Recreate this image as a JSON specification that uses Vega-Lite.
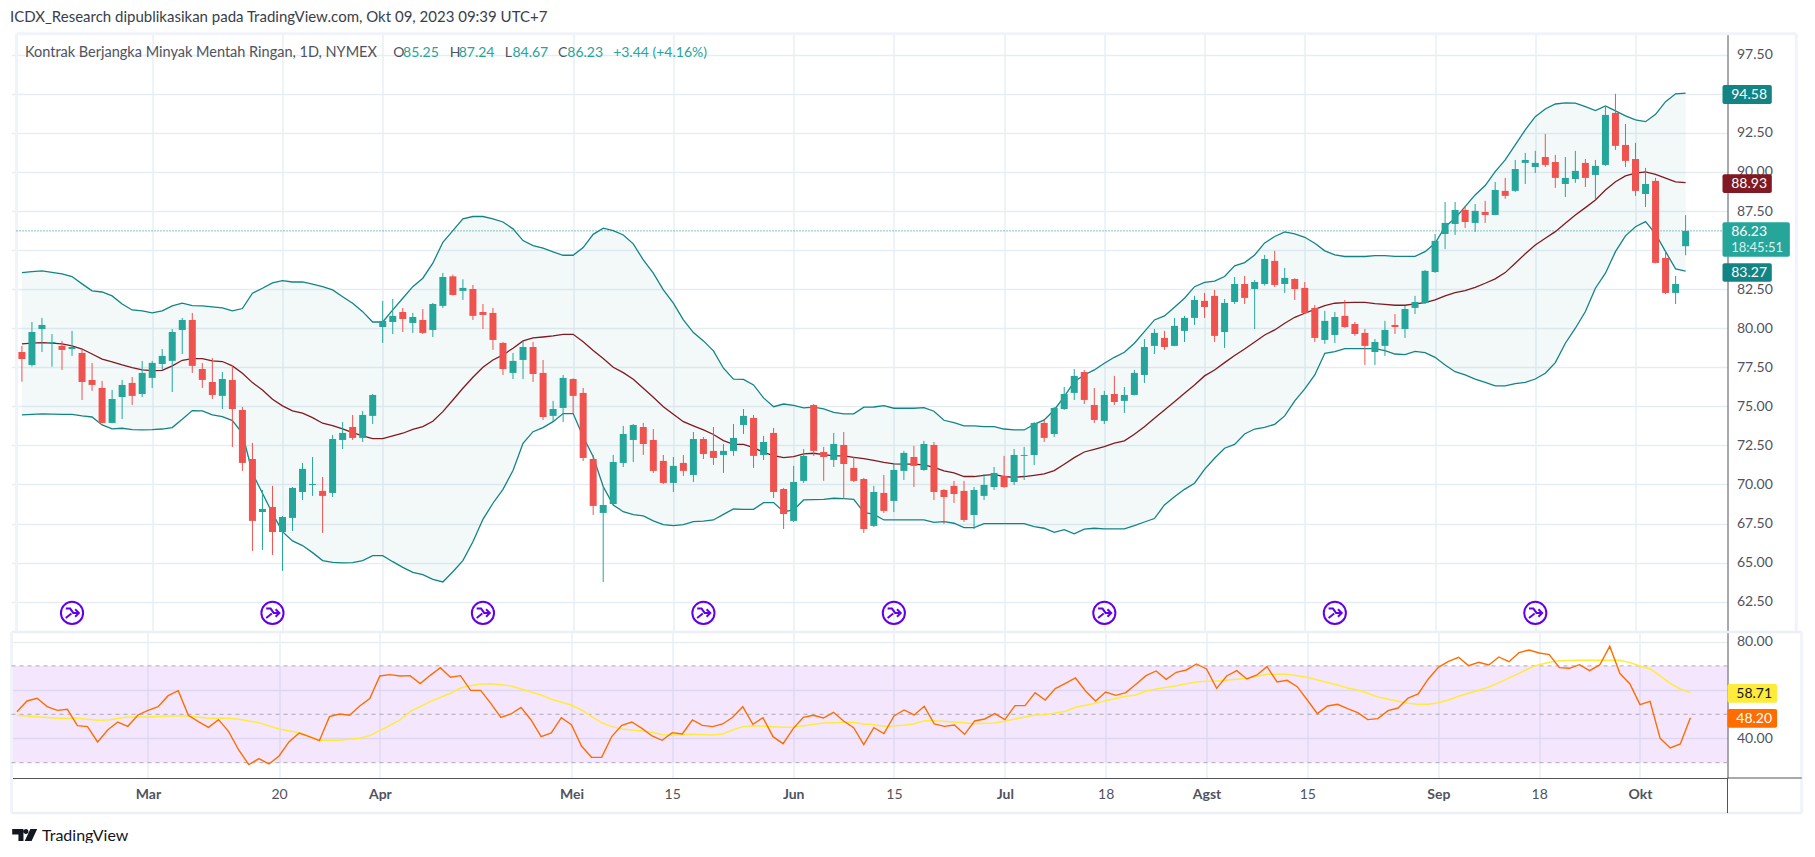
{
"$schema":"https://vega.github.io/schema/vega-lite/v6.json",
"background":"#ffffff",
"padding":{"left":9.5,"top":10,"right":0,"bottom":0},
"autosize":{"type":"pad","resize":false},
"title":{"text":"ICDX_Research dipublikasikan pada TradingView.com, Okt 09, 2023 09:39 UTC+7","anchor":"start","fontSize":15,"fontWeight":"normal","color":"#3a3e4a","offset":7},
"config":{"font":"Lato","view":{"stroke":null},"axis":{"gridColor":"#e5edf3","gridWidth":1.3,"labelColor":"#50535e","labelFontSize":14,"domainColor":"#50535e","ticks":false,"labelPadding":9}},
"datasets":{
"ohlc":[
{"bar":0,"o":78.48,"h":78.87,"l":76.58,"c":78.03},{"bar":1,"o":77.65,"h":80.40,"l":77.54,"c":79.76},{"bar":2,"o":79.95,"h":80.66,"l":78.48,"c":80.21},{"bar":3,"o":79.04,"h":79.63,"l":77.54,"c":79.12},
{"bar":4,"o":78.87,"h":79.19,"l":77.33,"c":78.61},{"bar":5,"o":78.67,"h":79.83,"l":78.23,"c":78.80},{"bar":6,"o":78.42,"h":78.61,"l":75.41,"c":76.56},{"bar":7,"o":76.69,"h":77.78,"l":75.99,"c":76.37},
{"bar":8,"o":76.18,"h":76.63,"l":73.92,"c":73.94},{"bar":9,"o":73.94,"h":76.05,"l":73.92,"c":75.47},{"bar":10,"o":75.60,"h":76.69,"l":74.19,"c":76.37},{"bar":11,"o":76.50,"h":76.88,"l":75.09,"c":75.67},
{"bar":12,"o":75.79,"h":77.91,"l":75.60,"c":77.14},{"bar":13,"o":76.82,"h":77.91,"l":76.18,"c":77.78},{"bar":14,"o":77.71,"h":78.67,"l":77.33,"c":78.23},{"bar":15,"o":77.91,"h":79.95,"l":75.92,"c":79.76},
{"bar":16,"o":79.89,"h":80.66,"l":78.35,"c":80.53},{"bar":17,"o":80.53,"h":80.98,"l":77.14,"c":77.59},{"bar":18,"o":77.39,"h":77.78,"l":76.18,"c":76.69},{"bar":19,"o":76.56,"h":78.10,"l":75.47,"c":75.73},
{"bar":20,"o":75.67,"h":77.20,"l":74.83,"c":76.75},{"bar":21,"o":76.69,"h":77.65,"l":72.40,"c":74.83},{"bar":22,"o":74.77,"h":74.96,"l":70.87,"c":71.38},{"bar":23,"o":71.63,"h":72.66,"l":65.75,"c":67.67},
{"bar":24,"o":68.24,"h":69.65,"l":65.81,"c":68.43},{"bar":25,"o":68.56,"h":69.91,"l":65.49,"c":66.96},{"bar":26,"o":66.96,"h":67.99,"l":64.47,"c":67.92},{"bar":27,"o":67.86,"h":69.84,"l":67.03,"c":69.78},
{"bar":28,"o":69.52,"h":71.38,"l":69.01,"c":71.00},{"bar":29,"o":69.97,"h":71.76,"l":69.27,"c":70.03},{"bar":30,"o":69.59,"h":70.48,"l":66.90,"c":69.27},{"bar":31,"o":69.46,"h":73.17,"l":69.20,"c":72.91},
{"bar":32,"o":72.85,"h":74.00,"l":72.27,"c":73.30},{"bar":33,"o":73.68,"h":74.45,"l":72.85,"c":72.98},{"bar":34,"o":72.98,"h":74.71,"l":72.72,"c":74.45},{"bar":35,"o":74.39,"h":75.79,"l":73.87,"c":75.73},
{"bar":36,"o":80.08,"h":81.75,"l":79.06,"c":80.47},{"bar":37,"o":80.40,"h":81.87,"l":79.63,"c":80.79},{"bar":38,"o":81.04,"h":81.30,"l":79.76,"c":80.59},{"bar":39,"o":80.34,"h":80.98,"l":79.70,"c":80.72},
{"bar":40,"o":80.53,"h":81.23,"l":79.63,"c":79.70},{"bar":41,"o":79.89,"h":81.62,"l":79.44,"c":81.55},{"bar":42,"o":81.43,"h":83.54,"l":81.30,"c":83.28},{"bar":43,"o":83.32,"h":83.43,"l":82.10,"c":82.13},
{"bar":44,"o":82.39,"h":83.13,"l":81.81,"c":82.58},{"bar":45,"o":82.51,"h":82.77,"l":80.53,"c":80.79},{"bar":46,"o":81.04,"h":81.55,"l":79.95,"c":80.85},{"bar":47,"o":80.98,"h":81.30,"l":78.61,"c":79.25},
{"bar":48,"o":79.06,"h":79.12,"l":77.01,"c":77.39},{"bar":49,"o":77.14,"h":78.42,"l":76.75,"c":77.91},{"bar":50,"o":77.97,"h":79.19,"l":76.75,"c":78.80},{"bar":51,"o":78.80,"h":79.12,"l":76.56,"c":77.07},
{"bar":52,"o":77.14,"h":77.97,"l":74.13,"c":74.32},{"bar":53,"o":74.39,"h":75.35,"l":74.07,"c":74.83},{"bar":54,"o":74.90,"h":77.01,"l":74.00,"c":76.82},{"bar":55,"o":76.75,"h":76.80,"l":74.51,"c":75.67},
{"bar":56,"o":75.86,"h":76.18,"l":71.50,"c":71.70},{"bar":57,"o":71.63,"h":71.89,"l":68.05,"c":68.63},{"bar":58,"o":68.18,"h":69.91,"l":63.76,"c":68.69},{"bar":59,"o":68.75,"h":71.89,"l":68.69,"c":71.44},
{"bar":60,"o":71.38,"h":73.75,"l":71.12,"c":73.23},{"bar":61,"o":72.85,"h":73.87,"l":71.44,"c":73.81},{"bar":62,"o":73.68,"h":73.94,"l":71.89,"c":72.59},{"bar":63,"o":72.85,"h":73.55,"l":70.74,"c":70.87},
{"bar":64,"o":71.51,"h":71.89,"l":70.03,"c":70.10},{"bar":65,"o":70.10,"h":71.76,"l":69.52,"c":71.19},{"bar":66,"o":71.38,"h":71.89,"l":70.55,"c":70.87},{"bar":67,"o":70.61,"h":73.36,"l":70.16,"c":72.91},
{"bar":68,"o":72.91,"h":73.04,"l":71.63,"c":71.95},{"bar":69,"o":72.15,"h":73.68,"l":71.25,"c":71.70},{"bar":70,"o":71.89,"h":72.59,"l":70.74,"c":72.15},{"bar":71,"o":72.15,"h":73.87,"l":71.83,"c":72.98},
{"bar":72,"o":73.81,"h":74.83,"l":73.23,"c":74.39},{"bar":73,"o":74.26,"h":74.45,"l":71.06,"c":71.83},{"bar":74,"o":71.89,"h":73.11,"l":71.57,"c":72.72},{"bar":75,"o":73.30,"h":73.62,"l":69.14,"c":69.52},
{"bar":76,"o":69.71,"h":69.78,"l":67.15,"c":68.11},{"bar":77,"o":67.67,"h":71.19,"l":67.60,"c":70.16},{"bar":78,"o":70.23,"h":72.27,"l":70.10,"c":71.83},{"bar":79,"o":75.09,"h":75.15,"l":71.83,"c":72.15},
{"bar":80,"o":72.08,"h":72.40,"l":70.23,"c":71.76},{"bar":81,"o":71.57,"h":73.30,"l":71.12,"c":72.59},{"bar":82,"o":72.53,"h":73.36,"l":69.07,"c":71.31},{"bar":83,"o":71.06,"h":71.76,"l":70.16,"c":70.23},
{"bar":84,"o":70.35,"h":70.42,"l":66.90,"c":67.15},{"bar":85,"o":67.35,"h":69.91,"l":67.28,"c":69.52},{"bar":86,"o":69.46,"h":70.61,"l":68.18,"c":68.31},{"bar":87,"o":68.95,"h":71.38,"l":68.24,"c":70.93},
{"bar":88,"o":70.87,"h":72.15,"l":70.29,"c":72.02},{"bar":89,"o":71.76,"h":72.47,"l":69.84,"c":71.19},{"bar":90,"o":70.93,"h":72.79,"l":70.87,"c":72.59},{"bar":91,"o":72.53,"h":72.72,"l":69.01,"c":69.52},
{"bar":92,"o":69.65,"h":69.71,"l":67.47,"c":69.20},{"bar":93,"o":69.91,"h":70.23,"l":68.82,"c":69.39},{"bar":94,"o":69.59,"h":70.23,"l":67.60,"c":67.73},{"bar":95,"o":68.05,"h":69.84,"l":67.15,"c":69.65},
{"bar":96,"o":69.27,"h":70.67,"l":69.01,"c":69.97},{"bar":97,"o":69.84,"h":71.12,"l":69.65,"c":70.74},{"bar":98,"o":70.55,"h":71.83,"l":69.78,"c":69.84},{"bar":99,"o":70.16,"h":72.27,"l":69.97,"c":71.89},
{"bar":100,"o":71.83,"h":72.40,"l":70.29,"c":71.89},{"bar":101,"o":71.89,"h":74.00,"l":71.25,"c":73.94},{"bar":102,"o":73.94,"h":74.13,"l":72.72,"c":72.98},{"bar":103,"o":73.23,"h":74.96,"l":73.04,"c":74.90},
{"bar":104,"o":74.83,"h":76.24,"l":74.77,"c":75.79},{"bar":105,"o":75.86,"h":77.39,"l":75.41,"c":76.95},{"bar":106,"o":77.20,"h":77.33,"l":75.15,"c":75.41},{"bar":107,"o":75.09,"h":76.18,"l":73.94,"c":74.13},
{"bar":108,"o":74.07,"h":75.99,"l":73.87,"c":75.73},{"bar":109,"o":75.79,"h":76.95,"l":75.09,"c":75.28},{"bar":110,"o":75.35,"h":76.24,"l":74.58,"c":75.73},{"bar":111,"o":75.73,"h":77.33,"l":75.70,"c":77.14},
{"bar":112,"o":77.01,"h":79.31,"l":76.50,"c":78.80},{"bar":113,"o":78.87,"h":79.95,"l":78.35,"c":79.70},{"bar":114,"o":79.38,"h":79.83,"l":78.61,"c":78.80},{"bar":115,"o":78.87,"h":80.66,"l":78.85,"c":80.15},
{"bar":116,"o":79.83,"h":80.79,"l":79.12,"c":80.66},{"bar":117,"o":80.66,"h":82.07,"l":80.21,"c":81.81},{"bar":118,"o":81.75,"h":82.26,"l":80.66,"c":81.36},{"bar":119,"o":82.07,"h":82.45,"l":79.12,"c":79.51},
{"bar":120,"o":79.76,"h":81.87,"l":78.74,"c":81.62},{"bar":121,"o":81.68,"h":83.28,"l":81.55,"c":82.83},{"bar":122,"o":82.83,"h":83.35,"l":81.55,"c":81.94},{"bar":123,"o":82.51,"h":83.09,"l":79.95,"c":82.96},
{"bar":124,"o":82.83,"h":84.69,"l":82.73,"c":84.43},{"bar":125,"o":84.31,"h":84.95,"l":82.64,"c":82.77},{"bar":126,"o":82.83,"h":83.86,"l":82.26,"c":83.22},{"bar":127,"o":83.15,"h":83.20,"l":81.81,"c":82.51},
{"bar":128,"o":82.58,"h":82.96,"l":80.91,"c":80.98},{"bar":129,"o":81.30,"h":81.49,"l":79.12,"c":79.38},{"bar":130,"o":79.25,"h":81.11,"l":79.00,"c":80.47},{"bar":131,"o":79.57,"h":81.04,"l":79.06,"c":80.72},
{"bar":132,"o":80.79,"h":81.81,"l":80.02,"c":80.08},{"bar":133,"o":80.27,"h":80.40,"l":79.51,"c":79.63},{"bar":134,"o":79.70,"h":79.95,"l":77.65,"c":78.87},{"bar":135,"o":78.48,"h":79.31,"l":77.65,"c":79.12},
{"bar":136,"o":78.87,"h":80.47,"l":78.23,"c":79.89},{"bar":137,"o":80.21,"h":80.91,"l":79.63,"c":80.08},{"bar":138,"o":79.95,"h":81.43,"l":79.38,"c":81.23},{"bar":139,"o":81.30,"h":82.07,"l":80.91,"c":81.68},
{"bar":140,"o":81.62,"h":83.73,"l":81.55,"c":83.67},{"bar":141,"o":83.60,"h":86.03,"l":83.54,"c":85.59},{"bar":142,"o":86.03,"h":88.08,"l":85.07,"c":86.74},{"bar":143,"o":86.67,"h":88.08,"l":85.97,"c":87.57},
{"bar":144,"o":87.57,"h":87.83,"l":86.42,"c":86.80},{"bar":145,"o":86.74,"h":87.95,"l":86.16,"c":87.51},{"bar":146,"o":87.44,"h":88.15,"l":86.74,"c":87.25},{"bar":147,"o":87.25,"h":89.36,"l":87.23,"c":88.85},
{"bar":148,"o":88.79,"h":89.62,"l":88.28,"c":88.47},{"bar":149,"o":88.79,"h":90.77,"l":88.72,"c":90.19},{"bar":150,"o":90.58,"h":91.22,"l":89.23,"c":90.77},{"bar":151,"o":90.32,"h":91.35,"l":89.94,"c":90.58},
{"bar":152,"o":90.96,"h":92.43,"l":90.32,"c":90.45},{"bar":153,"o":90.64,"h":91.09,"l":88.98,"c":89.62},{"bar":154,"o":89.23,"h":90.96,"l":88.40,"c":89.62},{"bar":155,"o":89.55,"h":91.35,"l":89.30,"c":90.07},
{"bar":156,"o":90.58,"h":90.83,"l":89.04,"c":89.62},{"bar":157,"o":89.81,"h":90.77,"l":88.28,"c":90.39},{"bar":158,"o":90.45,"h":94.16,"l":90.39,"c":93.65},{"bar":159,"o":93.78,"h":95.00,"l":91.41,"c":91.67},
{"bar":160,"o":91.73,"h":93.07,"l":90.32,"c":90.71},{"bar":161,"o":90.83,"h":91.86,"l":88.47,"c":88.79},{"bar":162,"o":88.59,"h":90.26,"l":87.76,"c":89.23},{"bar":163,"o":89.43,"h":89.62,"l":84.15,"c":84.18},
{"bar":164,"o":84.50,"h":84.95,"l":82.19,"c":82.26},{"bar":165,"o":82.26,"h":83.35,"l":81.55,"c":82.83},{"bar":166,"o":85.25,"h":87.24,"l":84.67,"c":86.23}
],
"boll":[
{"bar":0,"up":83.56,"mid":79.00,"low":74.45},{"bar":1,"up":83.62,"mid":79.05,"low":74.49},{"bar":2,"up":83.67,"mid":79.08,"low":74.52},{"bar":3,"up":83.58,"mid":79.05,"low":74.50},{"bar":4,"up":83.48,"mid":79.00,"low":74.49},{"bar":5,"up":83.31,"mid":78.87,"low":74.49},{"bar":6,"up":82.84,"mid":78.67,"low":74.39},{"bar":7,"up":82.39,"mid":78.35,"low":74.32},{"bar":8,"up":82.32,"mid":78.03,"low":73.81},{"bar":9,"up":82.07,"mid":77.85,"low":73.56},
{"bar":10,"up":81.55,"mid":77.65,"low":73.60},{"bar":11,"up":81.17,"mid":77.48,"low":73.51},{"bar":12,"up":81.11,"mid":77.33,"low":73.49},{"bar":13,"up":80.98,"mid":77.29,"low":73.51},{"bar":14,"up":81.11,"mid":77.30,"low":73.55},{"bar":15,"up":81.43,"mid":77.59,"low":73.64},{"bar":16,"up":81.60,"mid":77.95,"low":74.17},{"bar":17,"up":81.45,"mid":78.06,"low":74.73},{"bar":18,"up":81.43,"mid":78.06,"low":74.71},{"bar":19,"up":81.37,"mid":77.91,"low":74.45},
{"bar":20,"up":81.30,"mid":77.87,"low":74.34},{"bar":21,"up":81.11,"mid":77.59,"low":74.09},{"bar":22,"up":81.26,"mid":77.12,"low":73.28},{"bar":23,"up":82.24,"mid":76.52,"low":70.72},{"bar":24,"up":82.56,"mid":76.05,"low":69.44},{"bar":25,"up":82.90,"mid":75.45,"low":68.15},{"bar":26,"up":83.05,"mid":75.03,"low":66.98},{"bar":27,"up":82.96,"mid":74.71,"low":66.39},{"bar":28,"up":82.96,"mid":74.56,"low":66.09},{"bar":29,"up":82.83,"mid":74.28,"low":65.64},
{"bar":30,"up":82.66,"mid":73.92,"low":65.13},{"bar":31,"up":82.45,"mid":73.77,"low":65.02},{"bar":32,"up":82.02,"mid":73.56,"low":64.98},{"bar":33,"up":81.60,"mid":73.32,"low":65.00},{"bar":34,"up":81.06,"mid":73.11,"low":65.13},{"bar":35,"up":80.40,"mid":72.94,"low":65.45},{"bar":36,"up":80.40,"mid":72.94,"low":65.45},{"bar":37,"up":81.17,"mid":73.11,"low":65.06},{"bar":38,"up":81.92,"mid":73.28,"low":64.70},{"bar":39,"up":82.66,"mid":73.53,"low":64.38},
{"bar":40,"up":83.20,"mid":73.70,"low":64.23},{"bar":41,"up":84.16,"mid":74.05,"low":63.93},{"bar":42,"up":85.50,"mid":74.66,"low":63.76},{"bar":43,"up":86.25,"mid":75.41,"low":64.42},{"bar":44,"up":87.00,"mid":76.16,"low":65.13},{"bar":45,"up":87.15,"mid":76.86,"low":66.34},{"bar":46,"up":87.15,"mid":77.50,"low":67.77},{"bar":47,"up":87.00,"mid":77.97,"low":68.80},{"bar":48,"up":86.80,"mid":78.29,"low":69.69},{"bar":49,"up":86.36,"mid":78.72,"low":70.89},
{"bar":50,"up":85.61,"mid":79.19,"low":72.64},{"bar":51,"up":85.29,"mid":79.38,"low":73.38},{"bar":52,"up":85.12,"mid":79.44,"low":73.64},{"bar":53,"up":84.88,"mid":79.51,"low":74.02},{"bar":54,"up":84.67,"mid":79.61,"low":74.54},{"bar":55,"up":84.67,"mid":79.61,"low":74.54},{"bar":56,"up":85.16,"mid":79.14,"low":73.06},{"bar":57,"up":86.01,"mid":78.57,"low":71.78},{"bar":58,"up":86.40,"mid":78.06,"low":69.87},{"bar":59,"up":86.25,"mid":77.50,"low":68.69},
{"bar":60,"up":85.97,"mid":77.16,"low":68.26},{"bar":61,"up":85.40,"mid":76.73,"low":68.07},{"bar":62,"up":84.37,"mid":76.16,"low":67.99},{"bar":63,"up":83.52,"mid":75.58,"low":67.67},{"bar":64,"up":82.45,"mid":74.98,"low":67.43},{"bar":65,"up":81.60,"mid":74.49,"low":67.37},{"bar":66,"up":80.53,"mid":74.02,"low":67.43},{"bar":67,"up":79.72,"mid":73.75,"low":67.62},{"bar":68,"up":79.19,"mid":73.49,"low":67.65},{"bar":69,"up":78.55,"mid":73.20,"low":67.73},
{"bar":70,"up":77.44,"mid":72.81,"low":68.09},{"bar":71,"up":76.74,"mid":72.57,"low":68.43},{"bar":72,"up":76.73,"mid":72.57,"low":68.41},{"bar":73,"up":76.37,"mid":72.36,"low":68.41},{"bar":74,"up":75.54,"mid":72.06,"low":68.84},{"bar":75,"up":74.98,"mid":71.85,"low":68.84},{"bar":76,"up":75.15,"mid":71.72,"low":68.26},{"bar":77,"up":75.07,"mid":71.78,"low":68.37},{"bar":78,"up":74.90,"mid":71.96,"low":69.01},{"bar":79,"up":74.95,"mid":72.00,"low":69.03},
{"bar":80,"up":74.84,"mid":71.91,"low":69.05},{"bar":81,"up":74.62,"mid":71.83,"low":69.12},{"bar":82,"up":74.52,"mid":71.83,"low":69.10},{"bar":83,"up":74.52,"mid":71.74,"low":69.05},{"bar":84,"up":74.95,"mid":71.66,"low":68.22},{"bar":85,"up":74.96,"mid":71.55,"low":68.09},{"bar":86,"up":75.05,"mid":71.42,"low":67.73},{"bar":87,"up":74.88,"mid":71.32,"low":67.73},{"bar":88,"up":74.88,"mid":71.30,"low":67.73},{"bar":89,"up":74.88,"mid":71.30,"low":67.73},
{"bar":90,"up":74.92,"mid":71.25,"low":67.73},{"bar":91,"up":74.69,"mid":71.10,"low":67.58},{"bar":92,"up":74.11,"mid":70.87,"low":67.62},{"bar":93,"up":73.96,"mid":70.74,"low":67.52},{"bar":94,"up":73.75,"mid":70.51,"low":67.24},{"bar":95,"up":73.75,"mid":70.51,"low":67.24},{"bar":96,"up":73.70,"mid":70.59,"low":67.50},{"bar":97,"up":73.70,"mid":70.65,"low":67.50},{"bar":98,"up":73.55,"mid":70.51,"low":67.50},{"bar":99,"up":73.49,"mid":70.46,"low":67.50},
{"bar":100,"up":73.49,"mid":70.51,"low":67.50},{"bar":101,"up":73.85,"mid":70.59,"low":67.30},{"bar":102,"up":74.13,"mid":70.68,"low":67.20},{"bar":103,"up":74.77,"mid":70.89,"low":66.94},{"bar":104,"up":75.62,"mid":71.30,"low":67.11},{"bar":105,"up":76.58,"mid":71.72,"low":66.84},{"bar":106,"up":77.01,"mid":72.08,"low":67.14},{"bar":107,"up":77.33,"mid":72.25,"low":67.20},{"bar":108,"up":77.76,"mid":72.42,"low":67.16},{"bar":109,"up":78.14,"mid":72.64,"low":67.16},
{"bar":110,"up":78.46,"mid":72.79,"low":67.16},{"bar":111,"up":79.04,"mid":73.21,"low":67.37},{"bar":112,"up":79.78,"mid":73.70,"low":67.60},{"bar":113,"up":80.53,"mid":74.24,"low":67.82},{"bar":114,"up":80.79,"mid":74.77,"low":68.69},{"bar":115,"up":81.34,"mid":75.30,"low":69.22},{"bar":116,"up":81.92,"mid":75.84,"low":69.69},{"bar":117,"up":82.66,"mid":76.37,"low":70.08},{"bar":118,"up":82.94,"mid":76.95,"low":70.97},{"bar":119,"up":83.01,"mid":77.33,"low":71.68},
{"bar":120,"up":83.31,"mid":77.80,"low":72.32},{"bar":121,"up":83.99,"mid":78.25,"low":72.57},{"bar":122,"up":84.20,"mid":78.67,"low":73.23},{"bar":123,"up":84.69,"mid":79.12,"low":73.55},{"bar":124,"up":85.46,"mid":79.57,"low":73.66},{"bar":125,"up":85.87,"mid":79.89,"low":73.85},{"bar":126,"up":86.16,"mid":80.32,"low":74.39},{"bar":127,"up":86.04,"mid":80.70,"low":75.35},{"bar":128,"up":85.82,"mid":80.96,"low":76.12},{"bar":129,"up":85.44,"mid":81.21,"low":77.01},
{"bar":130,"up":84.95,"mid":81.45,"low":78.40},{"bar":131,"up":84.69,"mid":81.60,"low":78.50},{"bar":132,"up":84.59,"mid":81.64,"low":78.70},{"bar":133,"up":84.59,"mid":81.66,"low":78.70},{"bar":134,"up":84.59,"mid":81.66,"low":78.70},{"bar":135,"up":84.65,"mid":81.58,"low":78.70},{"bar":136,"up":84.65,"mid":81.53,"low":78.57},{"bar":137,"up":84.60,"mid":81.47,"low":78.35},{"bar":138,"up":84.60,"mid":81.47,"low":78.31},{"bar":139,"up":84.60,"mid":81.56,"low":78.52},
{"bar":140,"up":84.90,"mid":81.64,"low":78.44},{"bar":141,"up":85.44,"mid":81.81,"low":78.14},{"bar":142,"up":86.50,"mid":82.07,"low":77.65},{"bar":143,"up":87.04,"mid":82.28,"low":77.22},{"bar":144,"up":87.78,"mid":82.41,"low":77.01},{"bar":145,"up":88.53,"mid":82.62,"low":76.75},{"bar":146,"up":89.13,"mid":82.88,"low":76.54},{"bar":147,"up":90.02,"mid":83.16,"low":76.31},{"bar":148,"up":90.77,"mid":83.56,"low":76.31},{"bar":149,"up":91.73,"mid":84.16,"low":76.46},
{"bar":150,"up":92.69,"mid":84.76,"low":76.54},{"bar":151,"up":93.54,"mid":85.33,"low":76.75},{"bar":152,"up":94.03,"mid":85.76,"low":77.12},{"bar":153,"up":94.35,"mid":86.18,"low":77.80},{"bar":154,"up":94.42,"mid":86.72,"low":79.04},{"bar":155,"up":94.40,"mid":87.25,"low":80.00},{"bar":156,"up":94.18,"mid":87.72,"low":81.07},{"bar":157,"up":93.93,"mid":88.21,"low":82.56},{"bar":158,"up":94.23,"mid":88.85,"low":83.52},{"bar":159,"up":93.91,"mid":89.38,"low":84.90},
{"bar":160,"up":93.59,"mid":89.75,"low":85.91},{"bar":161,"up":93.33,"mid":89.92,"low":86.50},{"bar":162,"up":93.22,"mid":90.00,"low":86.82},{"bar":163,"up":93.69,"mid":89.85,"low":86.04},{"bar":164,"up":94.50,"mid":89.60,"low":84.90},{"bar":165,"up":95.00,"mid":89.36,"low":83.80},{"bar":166,"up":95.04,"mid":89.32,"low":83.65}
],
"rsi":[
{"bar":0,"rsi":51.09},{"bar":1,"rsi":55.50},{"bar":2,"rsi":56.60},{"bar":3,"rsi":53.16},{"bar":4,"rsi":51.64},{"bar":5,"rsi":52.05},{"bar":6,"rsi":45.30},{"bar":7,"rsi":44.90},{"bar":8,"rsi":38.56},{"bar":9,"rsi":43.50},{"bar":10,"rsi":46.82},{"bar":11,"rsi":45.03},{"bar":12,"rsi":49.72},{"bar":13,"rsi":51.64},{"bar":14,"rsi":53.16},{"bar":15,"rsi":57.70},{"bar":16,"rsi":59.77},{"bar":17,"rsi":49.58},{"bar":18,"rsi":46.96},{"bar":19,"rsi":44.62},{"bar":20,"rsi":47.79},{"bar":21,"rsi":42.83},{"bar":22,"rsi":35.25},{"bar":23,"rsi":29.19},{"bar":24,"rsi":31.67},{"bar":25,"rsi":29.47},{"bar":26,"rsi":32.77},{"bar":27,"rsi":38.70},{"bar":28,"rsi":42.28},{"bar":29,"rsi":40.76},{"bar":30,"rsi":39.11},{"bar":31,"rsi":49.03},{"bar":32,"rsi":50.13},{"bar":33,"rsi":49.58},{"bar":34,"rsi":53.43},{"bar":35,"rsi":56.46},{"bar":36,"rsi":65.83},{"bar":37,"rsi":66.38},{"bar":38,"rsi":65.83},{"bar":39,"rsi":65.97},{"bar":40,"rsi":62.66},{"bar":41,"rsi":66.10},
{"bar":42,"rsi":69.27},{"bar":43,"rsi":65.28},{"bar":44,"rsi":65.97},{"bar":45,"rsi":59.90},{"bar":46,"rsi":59.90},{"bar":47,"rsi":54.53},{"bar":48,"rsi":48.75},{"bar":49,"rsi":50.13},{"bar":50,"rsi":52.88},{"bar":51,"rsi":47.65},{"bar":52,"rsi":40.76},{"bar":53,"rsi":42.28},{"bar":54,"rsi":48.61},{"bar":55,"rsi":45.72},{"bar":56,"rsi":36.90},{"bar":57,"rsi":32.22},{"bar":58,"rsi":32.22},{"bar":59,"rsi":40.80},{"bar":60,"rsi":45.44},{"bar":61,"rsi":46.82},{"bar":62,"rsi":44.20},{"bar":63,"rsi":41.04},{"bar":64,"rsi":39.25},{"bar":65,"rsi":42.41},{"bar":66,"rsi":41.86},{"bar":67,"rsi":47.65},{"bar":68,"rsi":45.44},{"bar":69,"rsi":44.90},{"bar":70,"rsi":46.00},{"bar":71,"rsi":48.75},{"bar":72,"rsi":53.16},{"bar":73,"rsi":45.86},{"bar":74,"rsi":48.61},{"bar":75,"rsi":40.76},{"bar":76,"rsi":37.87},{"bar":77,"rsi":44.07},{"bar":78,"rsi":48.75},{"bar":79,"rsi":49.58},{"bar":80,"rsi":48.47},{"bar":81,"rsi":50.82},{"bar":82,"rsi":47.23},{"bar":83,"rsi":44.48},
{"bar":84,"rsi":37.46},{"bar":85,"rsi":44.48},{"bar":86,"rsi":42.00},{"bar":87,"rsi":49.30},{"bar":88,"rsi":51.78},{"bar":89,"rsi":49.72},{"bar":90,"rsi":53.30},{"bar":91,"rsi":46.00},{"bar":92,"rsi":45.03},{"bar":93,"rsi":45.58},{"bar":94,"rsi":41.73},{"bar":95,"rsi":47.23},{"bar":96,"rsi":48.06},{"bar":97,"rsi":50.27},{"bar":98,"rsi":47.79},{"bar":99,"rsi":53.57},{"bar":100,"rsi":53.57},{"bar":101,"rsi":58.94},{"bar":102,"rsi":55.91},{"bar":103,"rsi":60.60},{"bar":104,"rsi":62.80},{"bar":105,"rsi":65.00},{"bar":106,"rsi":59.63},{"bar":107,"rsi":55.50},{"bar":108,"rsi":59.22},{"bar":109,"rsi":57.84},{"bar":110,"rsi":58.94},{"bar":111,"rsi":62.39},{"bar":112,"rsi":65.97},{"bar":113,"rsi":67.90},{"bar":114,"rsi":64.45},{"bar":115,"rsi":67.35},{"bar":116,"rsi":68.31},{"bar":117,"rsi":70.79},{"bar":118,"rsi":68.72},{"bar":119,"rsi":60.73},{"bar":120,"rsi":65.83},{"bar":121,"rsi":68.03},{"bar":122,"rsi":64.59},{"bar":123,"rsi":66.24},{"bar":124,"rsi":69.69},{"bar":125,"rsi":63.35},
{"bar":126,"rsi":64.04},{"bar":127,"rsi":61.42},{"bar":128,"rsi":55.91},{"bar":129,"rsi":50.27},{"bar":130,"rsi":53.43},{"bar":131,"rsi":54.12},{"bar":132,"rsi":52.33},{"bar":133,"rsi":50.68},{"bar":134,"rsi":47.79},{"bar":135,"rsi":48.20},{"bar":136,"rsi":51.50},{"bar":137,"rsi":52.60},{"bar":138,"rsi":56.74},{"bar":139,"rsi":58.39},{"bar":140,"rsi":64.59},{"bar":141,"rsi":69.41},{"bar":142,"rsi":71.89},{"bar":143,"rsi":73.54},{"bar":144,"rsi":70.10},{"bar":145,"rsi":71.48},{"bar":146,"rsi":70.38},{"bar":147,"rsi":73.68},{"bar":148,"rsi":71.75},{"bar":149,"rsi":75.47},{"bar":150,"rsi":76.57},{"bar":151,"rsi":75.33},{"bar":152,"rsi":74.65},{"bar":153,"rsi":69.27},{"bar":154,"rsi":69.00},{"bar":155,"rsi":70.51},{"bar":156,"rsi":68.03},{"bar":157,"rsi":70.38},{"bar":158,"rsi":78.09},{"bar":159,"rsi":66.93},{"bar":160,"rsi":62.52},{"bar":161,"rsi":53.98},{"bar":162,"rsi":55.36},{"bar":163,"rsi":40.07},{"bar":164,"rsi":36.08},{"bar":165,"rsi":37.73},{"bar":166,"rsi":48.61}
],
"rsima":[
{"bar":0,"ma":49.58},{"bar":2,"ma":49.03},{"bar":4,"ma":48.34},{"bar":6,"ma":48.34},{"bar":8,"ma":47.50},{"bar":9,"ma":47.65},{"bar":11,"ma":48.89},{"bar":13,"ma":48.89},{"bar":15,"ma":49.30},{"bar":17,"ma":49.30},{"bar":19,"ma":48.34},{"bar":21,"ma":48.34},{"bar":22,"ma":47.92},{"bar":24,"ma":46.55},{"bar":26,"ma":43.93},{"bar":28,"ma":42.41},{"bar":30,"ma":39.25},{"bar":32,"ma":39.25},{"bar":34,"ma":40.07},{"bar":35,"ma":41.17},{"bar":36,"ma":43.24},{"bar":38,"ma":47.65},{"bar":39,"ma":51.09},{"bar":41,"ma":55.22},{"bar":43,"ma":58.67},{"bar":44,"ma":60.87},{"bar":45,"ma":61.84},{"bar":46,"ma":62.52},{"bar":47,"ma":62.66},{"bar":48,"ma":62.25},{"bar":49,"ma":61.70},{"bar":50,"ma":60.46},{"bar":52,"ma":58.00},{"bar":53,"ma":56.19},{"bar":55,"ma":53.85},{"bar":56,"ma":51.78},{"bar":57,"ma":49.03},{"bar":58,"ma":46.55},{"bar":59,"ma":44.90},{"bar":60,"ma":43.93},{"bar":61,"ma":43.50},{"bar":62,"ma":43.10},{"bar":63,"ma":42.55},{"bar":64,"ma":41.59},{"bar":65,"ma":41.45},{"bar":67,"ma":41.73},{"bar":69,"ma":41.45},{"bar":70,"ma":41.86},{"bar":71,"ma":43.50},{"bar":72,"ma":44.90},{"bar":73,"ma":45.30},{"bar":75,"ma":44.90},{"bar":76,"ma":44.62},{"bar":77,"ma":44.62},{"bar":78,"ma":45.30},{"bar":80,"ma":46.41},{"bar":83,"ma":46.68},{"bar":84,"ma":46.00},{"bar":85,"ma":45.72},{"bar":86,"ma":45.03},{"bar":87,"ma":45.30},{"bar":88,"ma":45.44},{"bar":89,"ma":46.13},{"bar":90,"ma":47.37},{"bar":91,"ma":47.37},{"bar":93,"ma":46.82},{"bar":95,"ma":46.13},{"bar":97,"ma":46.41},{"bar":98,"ma":47.10},{"bar":99,"ma":48.06},{"bar":101,"ma":49.72},{"bar":102,"ma":49.85},{"bar":104,"ma":51.23},{"bar":105,"ma":52.88},{"bar":107,"ma":54.53},{"bar":108,"ma":55.64},{"bar":110,"ma":57.43},{"bar":111,"ma":57.98},{"bar":112,"ma":59.63},{"bar":113,"ma":60.46},{"bar":115,"ma":61.84},{"bar":116,"ma":62.66},{"bar":117,"ma":63.35},{"bar":118,"ma":63.63},{"bar":119,"ma":63.76},{"bar":121,"ma":64.45},{"bar":122,"ma":64.87},{"bar":124,"ma":66.52},{"bar":125,"ma":66.52},{"bar":126,"ma":66.52},{"bar":127,"ma":65.97},{"bar":128,"ma":65.28},{"bar":129,"ma":64.18},{"bar":131,"ma":62.11},{"bar":132,"ma":60.87},{"bar":133,"ma":60.05},{"bar":134,"ma":58.67},{"bar":135,"ma":57.15},{"bar":137,"ma":55.36},{"bar":138,"ma":54.53},{"bar":139,"ma":54.12},{"bar":140,"ma":54.12},{"bar":141,"ma":54.81},{"bar":142,"ma":55.91},{"bar":143,"ma":57.43},{"bar":145,"ma":59.90},{"bar":146,"ma":61.28},{"bar":147,"ma":63.07},{"bar":149,"ma":66.93},{"bar":150,"ma":69.00},{"bar":151,"ma":70.51},{"bar":152,"ma":71.48},{"bar":153,"ma":72.17},{"bar":155,"ma":72.30},{"bar":158,"ma":72.30},{"bar":159,"ma":72.30},{"bar":160,"ma":71.34},{"bar":161,"ma":69.96},{"bar":162,"ma":68.72},{"bar":163,"ma":65.83},{"bar":164,"ma":62.80},{"bar":165,"ma":60.46},{"bar":166,"ma":58.94}
],
"events":[{"bar":5,"price":61.78},{"bar":25,"price":61.78},{"bar":46,"price":61.78},{"bar":68,"price":61.78},{"bar":87,"price":61.78},{"bar":108,"price":61.78},{"bar":131,"price":61.78},{"bar":151,"price":61.78}]
},
"vconcat":[
{
"width":1716,"height":598,
"encoding":{"x":{"field":"bar","type":"quantitative","scale":{"domain":[-0.54,169.68],"nice":false,"zero":false},"axis":{"title":null,"labels":false,"domain":false,"values":[13,26,36,55,65,77,87,98,108,118,128,141,151,161]}}},
"layer":[
{"data":{"name":"boll"},"mark":{"type":"area","color":"#138484","opacity":0.05},"encoding":{"y":{"field":"up","type":"quantitative","scale":{"domain":[60.56,98.83],"nice":false,"zero":false},"axis":{"title":null,"orient":"right","labelExpr":"datum.value==95||datum.value==85?'':format(datum.value,'.2f')","values":[62.5,65,67.5,70,72.5,75,77.5,80,82.5,85,87.5,90,92.5,95,97.5]}},"y2":{"field":"low"}}},
{"data":{"values":[{"bar":-0.54,"bar2":177.04,"price":98.85}]},"mark":{"type":"rule","color":"#f0f3fa","strokeWidth":3},"encoding":{"x2":{"field":"bar2"},"y":{"field":"price","type":"quantitative","title":null}}},
{"data":{"values":[{"bar":-0.54,"price":98.85,"price2":60.56},{"bar":177.04,"price":98.85,"price2":60.56}]},"mark":{"type":"rule","color":"#f0f3fa","strokeWidth":3},"encoding":{"y":{"field":"price","type":"quantitative","title":null},"y2":{"field":"price2"}}},
{"data":{"values":[{"bar":-0.54,"bar2":169.68,"price":86.23}]},"mark":{"type":"rule","color":"#138484","strokeWidth":1,"strokeDash":[1,2]},"encoding":{"x2":{"field":"bar2"},"y":{"field":"price","type":"quantitative","title":null}}},
{"data":{"name":"boll"},"mark":{"type":"line","color":"#138484","strokeWidth":1.3},"encoding":{"y":{"field":"up","type":"quantitative","title":null}}},
{"data":{"name":"boll"},"mark":{"type":"line","color":"#138484","strokeWidth":1.3},"encoding":{"y":{"field":"low","type":"quantitative","title":null}}},
{"data":{"name":"boll"},"mark":{"type":"line","color":"#801922","strokeWidth":1.3},"encoding":{"y":{"field":"mid","type":"quantitative","title":null}}},
{"data":{"name":"ohlc"},"mark":{"type":"rule","strokeWidth":1},"encoding":{"y":{"field":"l","type":"quantitative","title":null},"y2":{"field":"h"},"color":{"condition":{"test":"datum.c>=datum.o","value":"#26a69a"},"value":"#ef5350"}}},
{"data":{"name":"ohlc"},"mark":{"type":"bar","size":7},"encoding":{"y":{"field":"o","type":"quantitative","title":null},"y2":{"field":"c"},"color":{"condition":{"test":"datum.c>=datum.o","value":"#26a69a"},"value":"#ef5350"}}},
{"data":{"name":"events"},"mark":{"type":"point","shape":"circle","size":491,"filled":false,"color":"#6200ea","strokeWidth":2,"opacity":1},"encoding":{"y":{"field":"price","type":"quantitative","title":null}}},
{"data":{"name":"events"},"mark":{"type":"point","shape":"M-0.5,-0.35 L-0.15,-0.35 L0.1,0 L0.55,0 M0.25,-0.3 L0.55,0 L0.25,0.3 M-0.5,0.4 L-0.05,0.05","size":625,"filled":false,"color":"#6200ea","strokeWidth":2,"opacity":1},"encoding":{"y":{"field":"price","type":"quantitative","title":null}}},
{"data":{"values":[{"bar":0.3,"price":97.6,"label":"Kontrak Berjangka Minyak Mentah Ringan, 1D, NYMEX"}]},"mark":{"type":"text","align":"left","baseline":"middle","fontSize":14.5,"color":"#50535e"},"encoding":{"y":{"field":"price","type":"quantitative","title":null},"text":{"field":"label"}}},
{"data":{"values":[
{"bar":37.06,"price":97.6,"part":"name","label":"O"},{"bar":38.03,"price":97.6,"part":"val","label":"85.25"},
{"bar":42.69,"price":97.6,"part":"name","label":"H"},{"bar":43.58,"price":97.6,"part":"val","label":"87.24"},
{"bar":48.17,"price":97.6,"part":"name","label":"L"},{"bar":48.94,"price":97.6,"part":"val","label":"84.67"},
{"bar":53.5,"price":97.6,"part":"name","label":"C"},{"bar":54.42,"price":97.6,"part":"val","label":"86.23"},
{"bar":58.99,"price":97.6,"part":"val","label":"+3.44 (+4.16%)"}]},
"mark":{"type":"text","align":"left","baseline":"middle","fontSize":14},"encoding":{"y":{"field":"price","type":"quantitative","title":null},"text":{"field":"label"},"color":{"field":"part","type":"nominal","legend":null,"scale":{"domain":["name","val"],"range":["#50535e","#26a69a"]}}}},
{"data":{"values":[{"bar":169.68,"bar2":174.6,"top":95.57,"bottom":94.35},{"bar":169.68,"bar2":174.6,"top":84.16,"bottom":82.98}]},"mark":{"type":"rect","color":"#138484","cornerRadius":2},"encoding":{"x2":{"field":"bar2"},"y":{"field":"top","type":"quantitative","title":null},"y2":{"field":"bottom"}}},
{"data":{"values":[{"bar":169.68,"bar2":174.6,"top":89.85,"bottom":88.66}]},"mark":{"type":"rect","color":"#801922","cornerRadius":2},"encoding":{"x2":{"field":"bar2"},"y":{"field":"top","type":"quantitative","title":null},"y2":{"field":"bottom"}}},
{"data":{"values":[{"bar":169.68,"bar2":176.4,"top":86.78,"bottom":84.58}]},"mark":{"type":"rect","color":"#26a69a","cornerRadius":2},"encoding":{"x2":{"field":"bar2"},"y":{"field":"top","type":"quantitative","title":null},"y2":{"field":"bottom"}}},
{"data":{"values":[{"bar":170.55,"price":94.93,"label":"94.58"},{"bar":170.55,"price":89.23,"label":"88.93"},{"bar":170.55,"price":86.16,"label":"86.23"},{"bar":170.55,"price":83.56,"label":"83.27"}]},"mark":{"type":"text","align":"left","baseline":"middle","fontSize":14,"color":"#ffffff"},"encoding":{"y":{"field":"price","type":"quantitative","title":null},"text":{"field":"label"}}},
{"data":{"values":[{"bar":170.55,"price":85.12,"label":"18:45:51"}]},"mark":{"type":"text","align":"left","baseline":"middle","fontSize":13,"color":"#d9f2ef"},"encoding":{"y":{"field":"price","type":"quantitative","title":null},"text":{"field":"label"}}}
]
},
{
"width":1716,"height":146,
"encoding":{"x":{"field":"bar","type":"quantitative","scale":{"domain":[-0.54,169.68],"nice":false,"zero":false},"axis":{"title":"TradingView","titleAnchor":"start","titleAlign":"left","titleX":30,"titleY":57,"titleBaseline":"middle","titleFontSize":16,"titleFontWeight":"normal","titleColor":"#131722","values":[13,26,36,55,65,77,87,98,108,118,128,141,151,161],"labelExpr":"{'13':'Mar','26':'20','36':'Apr','55':'Mei','65':'15','77':'Jun','87':'15','98':'Jul','108':'18','118':'Agst','128':'15','141':'Sep','151':'18','161':'Okt'}[datum.value]","labelFontWeight":{"condition":{"test":"indexof([13,36,55,77,98,118,141,161],datum.value)>=0","value":"bold"},"value":"normal"}}}},
"layer":[
{"data":{"values":[{"bar":-0.54,"bar2":169.68,"top":70,"bottom":30}]},"mark":{"type":"rect","color":"#a337ee","opacity":0.12},"encoding":{"x2":{"field":"bar2"},"y":{"field":"top","type":"quantitative","scale":{"domain":[23.68,84],"nice":false,"zero":false},"axis":{"title":null,"orient":"right","labelExpr":"datum.value==60?'':format(datum.value,'.2f')","values":[40,60,80]}},"y2":{"field":"bottom"}}},
{"data":{"values":[{"bar":-0.54,"bar2":177.04,"rsi":84},{"bar":-0.54,"bar2":177.04,"rsi":9.2}]},"mark":{"type":"rule","color":"#eceff6","strokeWidth":2.5},"encoding":{"x2":{"field":"bar2"},"y":{"field":"rsi","type":"quantitative","title":null}}},
{"data":{"values":[{"bar":-0.54,"rsi":84,"rsi2":9.2},{"bar":177.04,"rsi":84,"rsi2":9.2}]},"mark":{"type":"rule","color":"#f0f3fa","strokeWidth":3},"encoding":{"y":{"field":"rsi","type":"quantitative","title":null},"y2":{"field":"rsi2"}}},
{"data":{"values":[{"bar":169.68,"bar2":177.04,"rsi":23.68}]},"mark":{"type":"rule","color":"#50535e","strokeWidth":1},"encoding":{"x2":{"field":"bar2"},"y":{"field":"rsi","type":"quantitative","title":null}}},
{"data":{"values":[{"bar":169.68,"rsi":23.68,"rsi2":9.2}]},"mark":{"type":"rule","color":"#50535e","strokeWidth":1},"encoding":{"y":{"field":"rsi","type":"quantitative","title":null},"y2":{"field":"rsi2"}}},
{"data":{"values":[{"bar":-0.54,"bar2":169.68,"rsi":70},{"bar":-0.54,"bar2":169.68,"rsi":50},{"bar":-0.54,"bar2":169.68,"rsi":30}]},"mark":{"type":"rule","color":"#a9a9b2","strokeWidth":1,"strokeDash":[4,4]},"encoding":{"x2":{"field":"bar2"},"y":{"field":"rsi","type":"quantitative","title":null}}},
{"data":{"name":"rsima"},"mark":{"type":"line","color":"#ffeb3b","strokeWidth":1.5},"encoding":{"y":{"field":"ma","type":"quantitative","title":null}}},
{"data":{"name":"rsi"},"mark":{"type":"line","color":"#ff6d00","strokeWidth":1.4},"encoding":{"y":{"field":"rsi","type":"quantitative","title":null}}},
{"data":{"values":[{"bar":169.68,"bar2":174.6,"top":62.52,"bottom":54.81}]},"mark":{"type":"rect","color":"#ffeb3b","cornerRadius":2},"encoding":{"x2":{"field":"bar2"},"y":{"field":"top","type":"quantitative","title":null},"y2":{"field":"bottom"}}},
{"data":{"values":[{"bar":169.68,"bar2":174.6,"top":52.19,"bottom":44.48}]},"mark":{"type":"rect","color":"#ff6d00","cornerRadius":2},"encoding":{"x2":{"field":"bar2"},"y":{"field":"top","type":"quantitative","title":null},"y2":{"field":"bottom"}}},
{"data":{"values":[{"bar":170.55,"rsi":58.39,"label":"58.71"}]},"mark":{"type":"text","align":"left","baseline":"middle","fontSize":14,"color":"#131722"},"encoding":{"y":{"field":"rsi","type":"quantitative","title":null},"text":{"field":"label"}}},
{"data":{"values":[{"bar":170.55,"rsi":48.06,"label":"48.20"}]},"mark":{"type":"text","align":"left","baseline":"middle","fontSize":14,"color":"#ffffff"},"encoding":{"y":{"field":"rsi","type":"quantitative","title":null},"text":{"field":"label"}}},
{"data":{"values":[{"bar":0.77,"rsi":0.12}]},"mark":{"type":"point","shape":"M-1,-0.48 L-0.1,-0.48 L-0.1,0.48 L-0.5,0.48 L-0.5,-0.05 L-1,-0.05 Z M-0.1,-0.28 A0.2,0.2 0 1 1 0.3,-0.28 A0.2,0.2 0 1 1 -0.1,-0.28 Z M0.45,-0.48 L1,-0.48 L0.55,0.48 L0,0.48 Z","size":625,"filled":true,"color":"#131722","opacity":1},"encoding":{"y":{"field":"rsi","type":"quantitative","title":null}}}
]
}
],
"spacing":0,
"bounds":"flush"
}
